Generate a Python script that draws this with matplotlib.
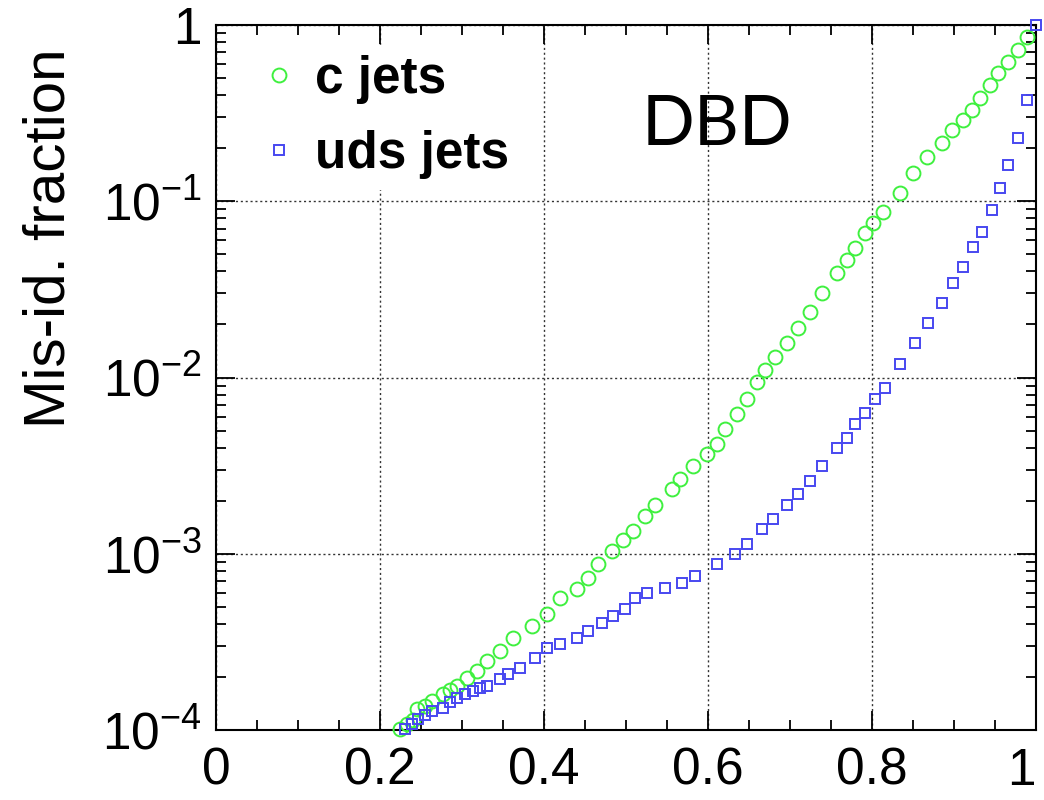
import numpy as np
import matplotlib
matplotlib.use('Agg')
import matplotlib.pyplot as plt
from matplotlib.ticker import FixedLocator, MultipleLocator, LogLocator, NullFormatter

# efficiency / mis-id values
c_eff = [0.224, 0.233, 0.240, 0.245, 0.255, 0.263, 0.277, 0.285, 0.294, 0.306,
         0.318, 0.331, 0.346, 0.362, 0.385, 0.404, 0.420, 0.440, 0.454, 0.466,
         0.483, 0.496, 0.509, 0.523, 0.535, 0.556, 0.566, 0.582, 0.599, 0.611,
         0.621, 0.635, 0.648, 0.660, 0.670, 0.682, 0.696, 0.710, 0.724, 0.739,
         0.757, 0.770, 0.779, 0.792, 0.801, 0.813, 0.834, 0.850, 0.867, 0.885,
         0.898, 0.911, 0.922, 0.932, 0.944, 0.954, 0.966, 0.978, 0.989]
c_mis = [1.01e-4, 1.08e-4, 1.14e-4, 1.32e-4, 1.37e-4, 1.46e-4, 1.60e-4, 1.69e-4, 1.78e-4, 1.97e-4,
         2.16e-4, 2.47e-4, 2.81e-4, 3.33e-4, 3.90e-4, 4.56e-4, 5.62e-4, 6.32e-4, 7.31e-4, 8.77e-4,
         1.04e-3, 1.19e-3, 1.35e-3, 1.64e-3, 1.88e-3, 2.34e-3, 2.67e-3, 3.16e-3, 3.70e-3, 4.22e-3,
         5.13e-3, 6.24e-3, 7.60e-3, 9.38e-3, 1.10e-2, 1.30e-2, 1.56e-2, 1.92e-2, 2.34e-2, 3.00e-2,
         3.90e-2, 4.62e-2, 5.41e-2, 6.58e-2, 7.50e-2, 8.65e-2, 0.112, 0.144, 0.178, 0.214,
         0.253, 0.288, 0.329, 0.385, 0.456, 0.533, 0.617, 0.721, 0.855]

uds_eff = [0.231, 0.239, 0.246, 0.255, 0.263, 0.277, 0.285, 0.294, 0.304, 0.313,
           0.322, 0.331, 0.346, 0.356, 0.371, 0.389, 0.404, 0.420, 0.440, 0.454,
           0.471, 0.484, 0.499, 0.511, 0.526, 0.548, 0.568, 0.584, 0.611, 0.633,
           0.648, 0.666, 0.679, 0.696, 0.710, 0.724, 0.739, 0.757, 0.770, 0.779,
           0.792, 0.804, 0.816, 0.834, 0.852, 0.868, 0.885, 0.899, 0.911, 0.923,
           0.934, 0.946, 0.956, 0.966, 0.978, 0.989, 1.0]
uds_mis = [1.01e-4, 1.08e-4, 1.15e-4, 1.22e-4, 1.28e-4, 1.33e-4, 1.44e-4, 1.52e-4, 1.60e-4, 1.67e-4,
           1.73e-4, 1.78e-4, 1.95e-4, 2.08e-4, 2.25e-4, 2.56e-4, 2.92e-4, 3.08e-4, 3.33e-4, 3.65e-4,
           4.06e-4, 4.45e-4, 4.86e-4, 5.62e-4, 6.00e-4, 6.41e-4, 6.84e-4, 7.50e-4, 8.77e-4, 1.00e-3,
           1.14e-3, 1.39e-3, 1.58e-3, 1.88e-3, 2.19e-3, 2.60e-3, 3.16e-3, 4.00e-3, 4.56e-3, 5.48e-3,
           6.32e-3, 7.60e-3, 8.77e-3, 1.20e-2, 1.56e-2, 2.03e-2, 2.63e-2, 3.42e-2, 4.22e-2, 5.48e-2,
           6.67e-2, 8.89e-2, 0.119, 0.160, 0.228, 0.375, 1.0]

x_ticks = [0, 0.2, 0.4, 0.6, 0.8, 1]
x_labels = ['0', '0.2', '0.4', '0.6', '0.8', '1']
y_ticks = [1e-4, 1e-3, 1e-2, 1e-1, 1]
y_labels = [r'$10^{-4}$', r'$10^{-3}$', r'$10^{-2}$', r'$10^{-1}$', '1']

plt.rcParams['font.family'] = ['Liberation Sans', 'DejaVu Sans']
plt.rcParams['mathtext.fontset'] = 'custom'
plt.rcParams['mathtext.rm'] = 'Liberation Sans'
plt.rcParams['mathtext.default'] = 'regular'

fig = plt.figure(figsize=(10.44, 8), dpi=100)
ax = fig.add_axes([216 / 1044, 1 - 730 / 800, 820 / 1044, 705 / 800])

ax.plot(c_eff, c_mis, 'o', ms=10, mfc='none', mec='#3ff03f', mew=1.4,
        label='c jets', clip_on=False, zorder=3)
ax.plot(uds_eff, uds_mis, 's', ms=7.5, mfc='none', mec='#4848f0', mew=1.4,
        label='uds jets', clip_on=False, zorder=3)

ax.set_yscale('log')
ax.set_xlim(0, 1)
ax.set_ylim(1e-4, 1)

ax.xaxis.set_major_locator(FixedLocator(x_ticks))
ax.set_xticklabels(x_labels)
ax.xaxis.set_minor_locator(MultipleLocator(0.05))
ax.yaxis.set_major_locator(FixedLocator(y_ticks))
ax.set_yticklabels(y_labels)
ax.yaxis.set_minor_locator(LogLocator(base=10, subs=np.arange(2, 10)))
ax.yaxis.set_minor_formatter(NullFormatter())

ax.tick_params(which='both', direction='in', top=True, right=True, labelsize=37, width=1.3)
ax.tick_params(which='major', length=14)
ax.tick_params(which='minor', length=7)
ax.tick_params(axis='x', pad=12)
ax.tick_params(axis='y', pad=10)
ax.get_xticklabels()[-1].set_horizontalalignment('right')
for s in ax.spines.values():
    s.set_linewidth(1.5)

ax.grid(True, which='major', linestyle=(0, (1.5, 2.0)), color='#333333', linewidth=1.0)

fig.text(50 / 1044, 1 - 48 / 800, 'Mis-id. fraction', rotation=90, ha='center', va='top', fontsize=42)

ax.text(0.611, 0.858, 'DBD', transform=ax.transAxes, ha='center', va='center',
        fontsize=50, family='Lato')

leg = ax.legend(loc='upper left', bbox_to_anchor=(0.045, 0.972), frameon=True, fancybox=False,
                framealpha=1, edgecolor='white', facecolor='white', handletextpad=0.4,
                handlelength=0.6, labelspacing=0.5, borderpad=0.2, borderaxespad=0,
                prop={'weight': 'bold', 'size': 37})

plt.savefig('out.png', dpi=100)
